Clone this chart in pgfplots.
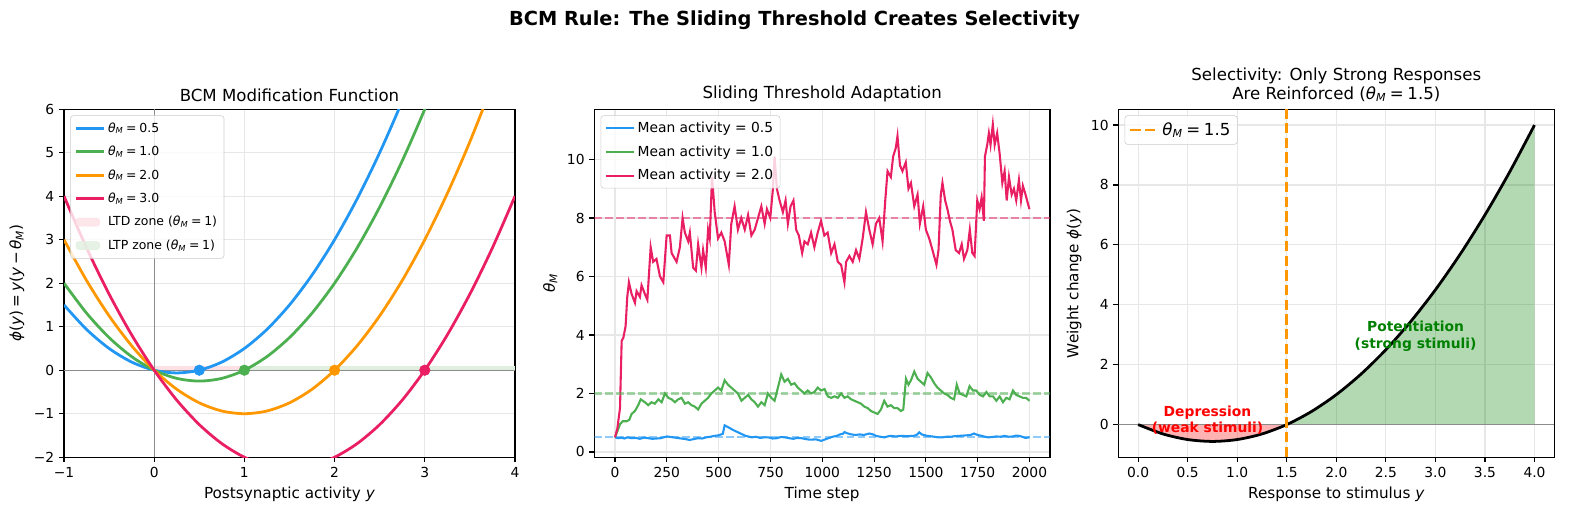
\documentclass[border=0pt]{standalone}
\usepackage{fontspec}
\setmainfont{DejaVu Sans}
\usepackage{pgfplots}
\pgfplotsset{compat=1.18}
\definecolor{cblue}{HTML}{2196F3}
\definecolor{cgreen}{HTML}{4CAF50}
\definecolor{corange}{HTML}{FF9800}
\definecolor{cpink}{HTML}{E91E63}
\definecolor{gridc}{HTML}{E7E7E7}
\definecolor{legframe}{HTML}{CCCCCC}
\definecolor{ltdfill}{HTML}{FDE0E4}
\definecolor{ltpfill}{HTML}{E0EFE0}
\definecolor{mplgreen}{HTML}{008000}
\newcommand{\thM}{\textit{θ}\textsubscript{\textit{M}}}
\newcommand{\eq}{\hspace{0.22em}=\hspace{0.22em}}
\pgfplotsset{
  legend image code/.code={\draw[#1] (0bp,0bp) -- (20bp,0bp);},
  mystyle/.style={
    scale only axis, anchor=south west,
    axis line style={line width=0.8bp},
    tick style={line width=0.8bp, black},
    major tick length=3.5bp, tick align=outside, tick pos=left,
    grid=major, grid style={line width=0.8bp, color=gridc},
    tick label style={font=\fontsize{10}{12}\selectfont},
    /pgf/number format/assume math mode=true,
    /pgf/number format/1000 sep={},
    label style={font=\fontsize{11}{13}\selectfont},
    title style={font=\fontsize{12}{13.5}\selectfont, yshift=-4bp},
    legend cell align=left,
    legend style={draw=legframe, rounded corners=2bp, fill=white, fill opacity=0.8, text opacity=1,
      anchor=north west, at={(0,1)}, xshift=4.5bp, yshift=-4.5bp},
  }
}
\begin{document}
\begin{tikzpicture}
\path[use as bounding box] (0,0) rectangle (1144.08bp,370.8bp);
\node[font=\bfseries\fontsize{14}{17}\selectfont, anchor=base] at (572.04bp,352.5bp) {BCM Rule: The Sliding Threshold Creates Selectivity};

% ---------- Panel 1 ----------
\begin{axis}[mystyle, at={(46.08bp,41.6bp)}, width=324.7bp, height=250.6bp,
  xmin=-1, xmax=4, ymin=-2, ymax=6,
  xtick={-1,0,1,2,3,4}, xticklabels={−1,0,1,2,3,4},
  ytick={-2,-1,0,1,2,3,4,5,6}, yticklabels={−2,−1,0,1,2,3,4,5,6},
  title={BCM Modification Function},
  xlabel={Postsynaptic activity \textit{y}},
  ylabel={\textit{ϕ}(\textit{y})\eq\textit{y}(\textit{y}\hspace{0.15em}−\hspace{0.15em}\thM)},
  legend style={font=\fontsize{9}{11}\selectfont, row sep=4.5bp, inner ysep=3bp}]
\addplot[draw=none, fill=ltdfill, forget plot] coordinates {(0,0) (1,0) (1,0.1) (0,0.1)} -- cycle;
\addplot[draw=none, fill=ltpfill, forget plot] coordinates {(1,0) (4,0) (4,0.1) (1,0.1)} -- cycle;
\addplot[black!45, line width=0.6bp, forget plot] coordinates {(-1,0) (4,0)};
\addplot[black!45, line width=0.6bp, forget plot] coordinates {(0,-2) (0,6)};
\addplot[cblue, line width=2bp, smooth] coordinates {
(-1,1.5) (-0.75,0.9375) (-0.5,0.5) (-0.25,0.1875) (0,0) (0.25,-0.0625) (0.5,0) (0.75,0.1875) (1,0.5) (1.25,0.9375) (1.5,1.5) (1.75,2.1875) (2,3) (2.25,3.9375) (2.5,5) (2.75,6.1875) (3,7.5)};
\addlegendentry{\thM\eq 0.5}
\addplot[cgreen, line width=2bp, smooth] coordinates {
(-1,2) (-0.75,1.3125) (-0.5,0.75) (-0.25,0.3125) (0,0) (0.25,-0.1875) (0.5,-0.25) (0.75,-0.1875) (1,0) (1.25,0.3125) (1.5,0.75) (1.75,1.3125) (2,2) (2.25,2.8125) (2.5,3.75) (2.75,4.8125) (3,6) (3.25,7.3125)};
\addlegendentry{\thM\eq 1.0}
\addplot[corange, line width=2bp, smooth] coordinates {
(-1,3) (-0.75,2.0625) (-0.5,1.25) (-0.25,0.5625) (0,0) (0.25,-0.4375) (0.5,-0.75) (0.75,-0.9375) (1,-1) (1.25,-0.9375) (1.5,-0.75) (1.75,-0.4375) (2,0) (2.25,0.5625) (2.5,1.25) (2.75,2.0625) (3,3) (3.25,4.0625) (3.5,5.25) (3.75,6.5625)};
\addlegendentry{\thM\eq 2.0}
\addplot[cpink, line width=2bp, smooth] coordinates {
(-1,4) (-0.75,2.8125) (-0.5,1.75) (-0.25,0.8125) (0,0) (0.25,-0.6875) (0.5,-1.25) (0.75,-1.6875) (1,-2) (1.25,-2.1875) (1.5,-2.25) (1.75,-2.1875) (2,-2) (2.25,-1.6875) (2.5,-1.25) (2.75,-0.6875) (3,0) (3.25,0.8125) (3.5,1.75) (3.75,2.8125) (4,4)};
\addlegendentry{\thM\eq 3.0}
\addplot[only marks, mark=*, mark size=3.8bp, cblue, forget plot] coordinates {(0.5,0)};
\addplot[only marks, mark=*, mark size=3.8bp, cgreen, forget plot] coordinates {(1,0)};
\addplot[only marks, mark=*, mark size=3.8bp, corange, forget plot] coordinates {(2,0)};
\addplot[only marks, mark=*, mark size=3.8bp, cpink, forget plot] coordinates {(3,0)};
\addlegendimage{area legend, draw=ltdfill, fill=ltdfill}
\addlegendentry{LTD zone (\thM\eq 1)}
\addlegendimage{area legend, draw=ltpfill, fill=ltpfill}
\addlegendentry{LTP zone (\thM\eq 1)}
\end{axis}

% ---------- Panel 2 ----------
\begin{axis}[mystyle, at={(427.9bp,41.6bp)}, width=328.1bp, height=250.6bp,
  xmin=-100, xmax=2099, ymin=-0.18, ymax=11.72,
  xtick={0,250,500,750,1000,1250,1500,1750,2000},
  ytick={0,2,4,6,8,10},
  title={Sliding Threshold Adaptation},
  xlabel={Time step}, ylabel={\thM},
  legend style={font=\fontsize{10}{12}\selectfont, row sep=4bp, inner ysep=2.5bp}]
\addplot[cblue, line width=1.5bp] coordinates {
(0,0.5) (15,0.47) (30,0.49) (45,0.46) (60,0.5) (80,0.47) (100,0.48) (120,0.45) (140,0.49) (160,0.47) (180,0.45) (200,0.46) (220,0.47) (250,0.53) (280,0.5) (300,0.48) (320,0.46) (340,0.44) (360,0.41) (380,0.44) (400,0.47) (420,0.46) (440,0.5) (460,0.52) (480,0.55) (500,0.57) (520,0.62) (529,0.91) (545,0.85) (570,0.75) (600,0.65) (630,0.55) (660,0.5) (680,0.52) (700,0.48) (720,0.5) (740,0.5) (760,0.46) (780,0.47) (800,0.51) (820,0.5) (840,0.47) (860,0.45) (880,0.48) (900,0.47) (920,0.44) (940,0.42) (970,0.43) (995,0.38) (1010,0.42) (1030,0.47) (1050,0.52) (1070,0.55) (1085,0.6) (1099,0.62) (1107,0.68) (1120,0.64) (1140,0.6) (1160,0.58) (1180,0.6) (1200,0.58) (1227,0.63) (1245,0.6) (1260,0.55) (1280,0.52) (1300,0.5) (1315,0.53) (1330,0.55) (1355,0.53) (1380,0.55) (1410,0.54) (1440,0.55) (1455,0.58) (1468,0.67) (1480,0.6) (1500,0.56) (1520,0.54) (1540,0.52) (1560,0.5) (1580,0.5) (1600,0.52) (1620,0.52) (1640,0.54) (1660,0.55) (1680,0.56) (1700,0.57) (1715,0.58) (1732,0.63) (1750,0.58) (1770,0.55) (1785,0.52) (1800,0.5) (1820,0.51) (1840,0.53) (1860,0.52) (1880,0.55) (1900,0.52) (1920,0.53) (1935,0.56) (1950,0.55) (1965,0.52) (1980,0.48) (2000,0.5)};
\addlegendentry{Mean activity = 0.5}
\addplot[cgreen, line width=1.5bp] coordinates {
(0,0.5) (11,0.7) (24,0.95) (37,1.05) (56,1.05) (69,1.1) (80,1.3) (96,1.4) (112,1.6) (124,1.8) (144,1.7) (160,1.6) (176,1.7) (192,1.65) (209,1.8) (225,1.7) (241,2.0) (257,1.85) (273,1.8) (289,1.7) (305,1.8) (321,1.85) (337,1.65) (353,1.7) (369,1.6) (385,1.55) (401,1.45) (417,1.65) (433,1.75) (449,1.85) (465,2.0) (481,2.1) (497,2.2) (513,2.1) (529,2.45) (545,2.3) (561,2.2) (577,2.1) (593,2.0) (610,1.75) (626,1.85) (642,1.95) (658,1.8) (674,1.7) (690,1.55) (706,1.7) (722,1.6) (738,2.0) (754,1.85) (770,1.75) (786,2.2) (802,2.65) (818,2.4) (834,2.5) (850,2.3) (866,2.35) (882,2.2) (898,2.1) (914,2.0) (930,2.1) (946,2.0) (962,2.05) (978,2.2) (994,2.1) (1011,2.15) (1027,1.9) (1043,1.85) (1059,1.9) (1075,1.85) (1091,2.0) (1107,1.85) (1123,1.9) (1139,1.8) (1155,1.75) (1171,1.7) (1187,1.65) (1203,1.55) (1219,1.5) (1235,1.4) (1251,1.35) (1267,1.3) (1283,1.45) (1299,1.75) (1315,1.55) (1331,1.6) (1347,1.5) (1363,1.5) (1379,1.4) (1391,1.45) (1404,2.5) (1416,2.3) (1428,2.45) (1444,2.75) (1460,2.5) (1476,2.4) (1492,2.3) (1508,2.7) (1524,2.55) (1540,2.35) (1556,2.2) (1572,2.1) (1588,2.0) (1604,1.95) (1620,1.85) (1636,1.8) (1649,2.3) (1663,2.0) (1679,1.95) (1695,1.9) (1711,2.25) (1727,2.1) (1743,2.1) (1760,1.95) (1776,1.9) (1792,2.05) (1808,1.9) (1824,1.9) (1840,1.75) (1856,1.9) (1872,1.7) (1888,1.85) (1904,1.8) (1920,2.1) (1936,1.95) (1952,1.9) (1968,1.85) (1984,1.85) (2000,1.75)};
\addlegendentry{Mean activity = 1.0}
\addplot[cpink, line width=1.5bp] coordinates {
(0,0.5) (11,0.8) (24,1.5) (32,3.8) (40,3.9) (51,4.3) (59,5.3) (67,5.8) (80,5.4) (96,5.1) (104,5.5) (120,5.3) (128,5.7) (144,5.4) (156,5.2) (172,7.0) (184,6.5) (200,6.6) (217,6.0) (233,5.8) (249,7.4) (265,7.4) (273,6.8) (297,6.5) (313,7.0) (326,8.0) (337,7.5) (353,7.2) (361,7.5) (377,6.3) (390,6.2) (401,7.1) (417,6.3) (425,6.9) (438,6.3) (449,7.6) (457,7.3) (468,9.4) (481,8.2) (497,7.3) (513,7.5) (529,7.2) (549,6.4) (561,7.8) (577,8.4) (593,7.6) (609,8.0) (626,7.6) (642,8.1) (658,7.4) (674,7.6) (690,8.0) (706,8.4) (722,7.8) (733,8.3) (749,8.0) (762,9.0) (770,10.1) (781,9.0) (794,8.6) (810,8.2) (823,8.6) (834,7.8) (847,8.4) (861,8.6) (874,7.6) (887,7.4) (903,6.8) (914,7.2) (930,7.1) (946,7.5) (962,7.0) (978,7.5) (994,7.9) (1010,7.4) (1026,7.5) (1043,6.8) (1059,7.1) (1075,6.5) (1091,6.4) (1107,5.8) (1115,6.5) (1131,6.7) (1147,6.5) (1163,6.9) (1179,6.6) (1195,7.3) (1211,8.2) (1227,7.6) (1243,7.1) (1259,7.8) (1275,8.0) (1291,7.2) (1304,8.6) (1315,9.6) (1331,9.4) (1342,10.1) (1355,10.4) (1363,10.8) (1375,9.8) (1387,9.6) (1403,9.9) (1416,9.0) (1428,9.2) (1444,8.4) (1460,8.8) (1471,7.8) (1487,8.4) (1500,7.6) (1516,7.3) (1532,6.9) (1551,6.4) (1561,6.9) (1572,8.8) (1580,9.2) (1593,8.6) (1604,8.3) (1616,7.9) (1628,7.6) (1644,6.9) (1660,6.8) (1673,7.1) (1684,6.6) (1700,6.9) (1712,7.6) (1724,6.8) (1735,6.7) (1748,8.6) (1759,8.3) (1769,8.7) (1780,7.9) (1785,10.1) (1796,10.5) (1804,10.9) (1812,10.5) (1823,11.2) (1832,10.5) (1844,10.9) (1856,10.2) (1869,9.2) (1880,9.6) (1890,8.6) (1901,9.4) (1914,8.8) (1925,9.0) (1936,8.6) (1949,9.3) (1959,8.6) (1968,9.1) (1981,8.8) (1992,8.5) (2000,8.3)};
\addlegendentry{Mean activity = 2.0}
\addplot[cblue, opacity=0.5, line width=1.5bp, dash pattern=on 5.5bp off 2.4bp, forget plot] coordinates {(-100,0.5) (2099,0.5)};
\addplot[cgreen, opacity=0.5, line width=1.5bp, dash pattern=on 5.5bp off 2.4bp, forget plot] coordinates {(-100,2) (2099,2)};
\addplot[cpink, opacity=0.5, line width=1.5bp, dash pattern=on 5.5bp off 2.4bp, forget plot] coordinates {(-100,8) (2099,8)};
\end{axis}

% ---------- Panel 3 ----------
\begin{axis}[mystyle, at={(805.2bp,41.6bp)}, width=313.9bp, height=250.6bp,
  xmin=-0.2, xmax=4.2, ymin=-1.09, ymax=10.53,
  xtick={0,0.5,1,1.5,2,2.5,3,3.5,4},
  xticklabels={0.0,0.5,1.0,1.5,2.0,2.5,3.0,3.5,4.0},
  ytick={0,2,4,6,8,10},
  title={Selectivity: Only Strong Responses\\Are Reinforced (\thM\eq 1.5)},
  title style={align=center},
  xlabel={Response to stimulus \textit{y}},
  ylabel={Weight change \textit{ϕ}(\textit{y})},
  legend style={font=\fontsize{12}{14}\selectfont, inner ysep=3bp}]
\addplot[draw=none, fill=red, fill opacity=0.3, forget plot] coordinates {
(0,0) (0.125,-0.171875) (0.25,-0.3125) (0.375,-0.421875) (0.5,-0.5) (0.625,-0.546875) (0.75,-0.5625) (0.875,-0.546875) (1,-0.5) (1.125,-0.421875) (1.25,-0.3125) (1.375,-0.171875) (1.5,0)} -- cycle;
\addplot[draw=none, fill=mplgreen, fill opacity=0.3, forget plot] coordinates {
(1.5,0) (1.75,0.4375) (2,1) (2.25,1.6875) (2.5,2.5) (2.75,3.4375) (3,4.5) (3.25,5.6875) (3.5,7) (3.75,8.4375) (4,10) (4,0)} -- cycle;
\addplot[black!45, line width=0.8bp, forget plot] coordinates {(-0.2,0) (4.2,0)};
\addplot[black, line width=2bp, smooth, forget plot] coordinates {
(0,0) (0.25,-0.3125) (0.5,-0.5) (0.75,-0.5625) (1,-0.5) (1.25,-0.3125) (1.5,0) (1.75,0.4375) (2,1) (2.25,1.6875) (2.5,2.5) (2.75,3.4375) (3,4.5) (3.25,5.6875) (3.5,7) (3.75,8.4375) (4,10)};
\addplot[corange, line width=2bp, dash pattern=on 7.4bp off 3.2bp] coordinates {(1.5,-1.09) (1.5,10.53)};
\addlegendentry{\thM\eq 1.5}
\node[font=\bfseries\fontsize{10}{12}\selectfont, text=red, align=center] at (axis cs:0.7,0.15) {Depression\\(weak stimuli)};
\node[font=\bfseries\fontsize{10}{12}\selectfont, text=mplgreen, align=center] at (axis cs:2.8,2.95) {Potentiation\\(strong stimuli)};
\end{axis}
\end{tikzpicture}
\end{document}
